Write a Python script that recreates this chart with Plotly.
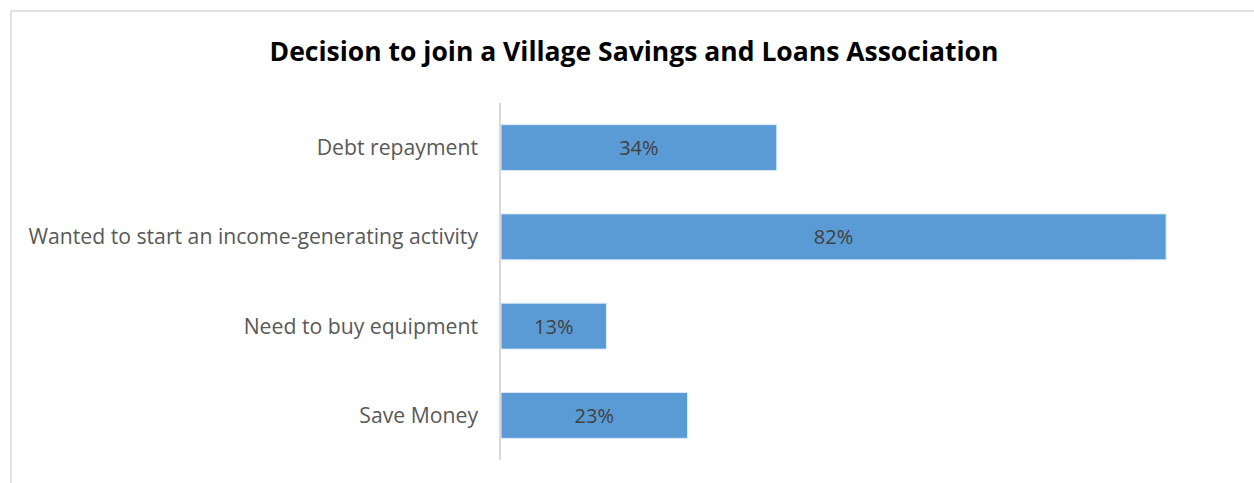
import plotly.graph_objects as go

# Reasons for joining a VSLA (share of respondents, %)
reasons = [
    "Debt repayment",
    "Wanted to start an income-generating activity",
    "Need to buy equipment",
    "Save Money",
]
shares = [34, 82, 13, 23]

W, H = 1254, 483
L, R, T, B = 501, 23, 103, 23
plot_w = W - L - R
plot_h = H - T - B

fig = go.Figure(
    go.Bar(
        x=shares,
        y=reasons,
        orientation="h",
        marker=dict(color="#5B9BD5", line=dict(color="#DEEBF7", width=1)),
        texttemplate="%{x}%",
        textposition="inside",
        insidetextanchor="middle",
        textfont=dict(family="Open Sans", size=20, color="#404040"),
        hoverinfo="skip",
    )
)

# light frame along the top and left edges of the chart area
frame_left = (11 - L) / plot_w
frame_top = (H - B - 11) / plot_h
frame = dict(color="#D9D9D9", width=1.5)
fig.add_shape(type="line", xref="paper", yref="paper",
              x0=frame_left, x1=(W - L) / plot_w + 0.1, y0=frame_top, y1=frame_top, line=frame)
fig.add_shape(type="line", xref="paper", yref="paper",
              x0=frame_left, x1=frame_left, y0=frame_top, y1=-0.2, line=frame)

fig.update_layout(
    width=W,
    height=H,
    margin=dict(l=L, r=R, t=T, b=B),
    paper_bgcolor="white",
    plot_bgcolor="white",
    bargap=0.485,
    showlegend=False,
    title=dict(
        text="<b>Decision to join a Village Savings and Loans Association</b>",
        x=(634 / W),
        xanchor="center",
        xref="container",
        y=1 - 52 / H,
        yanchor="middle",
        yref="container",
        font=dict(family="Open Sans", size=26.5, color="#000000"),
    ),
    xaxis=dict(
        range=[0, 90],
        showgrid=False,
        zeroline=False,
        showticklabels=False,
        showline=False,
        fixedrange=True,
    ),
    yaxis=dict(
        categoryorder="array",
        categoryarray=reasons,
        autorange="reversed",
        showgrid=False,
        showline=True,
        linecolor="#D9D9D9",
        linewidth=1.5,
        ticks="",
        ticklabelstandoff=17,
        tickfont=dict(family="Open Sans", size=21.2, color="#595959"),
        fixedrange=True,
    ),
)

fig.write_html("out.html")
